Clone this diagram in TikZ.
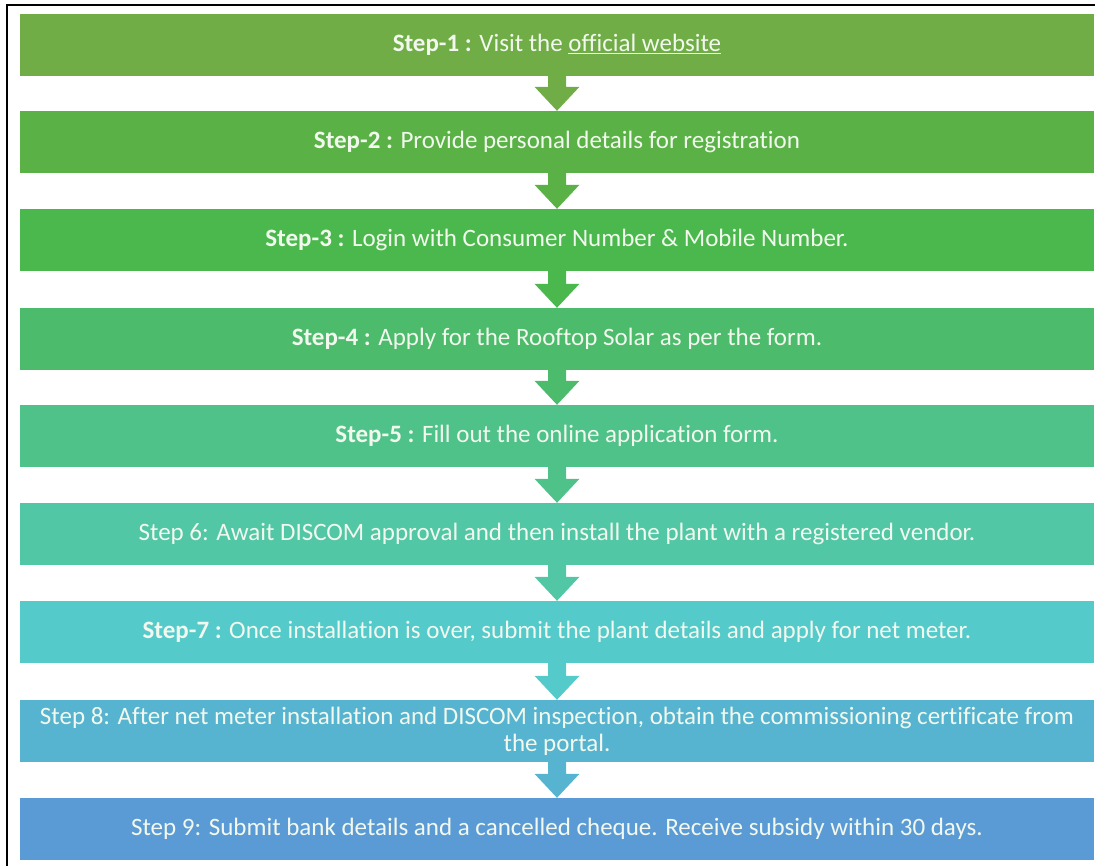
\documentclass[tikz,border=0pt]{standalone}
\usepackage{fontspec}
\setmainfont[Ligatures=NoCommon]{Carlito}
\usetikzlibrary{calc}

\definecolor{c1}{HTML}{70AD47}
\definecolor{c2}{HTML}{5AB247}
\definecolor{c3}{HTML}{4BB84E}
\definecolor{c4}{HTML}{4CBB6B}
\definecolor{c5}{HTML}{4FC289}
\definecolor{c6}{HTML}{51C7A6}
\definecolor{c7}{HTML}{55CACB}
\definecolor{c8}{HTML}{56B4D0}
\definecolor{c9}{HTML}{5B9BD5}
\definecolor{txt}{HTML}{F2F8EE}

% arrow from the bottom of one step to the top of the next
\newcommand\flowarrow[3]{%
  \fill[#3] ($(#1.south)+(-9,0)$) -- ($(#1.south)+(9,0)$)
    -- ($(#2.north)+(9,-24)$) -- ($(#2.north)+(22.5,-24)$)
    -- (#2.north)
    -- ($(#2.north)+(-22.5,-24)$) -- ($(#2.north)+(-9,-24)$) -- cycle;}

\begin{document}
\begin{tikzpicture}[x=1bp,y=-1bp,
  stepbox/.style={rectangle, inner sep=0pt, minimum width=1074bp,
    minimum height=62bp, text=txt, align=center,
    font=\fontsize{25bp}{27bp}\selectfont}]
\useasboundingbox (0,0) rectangle (1095,866);

% outer frame
\draw[line width=2bp] (7,866) -- (7,5) -- (1095,5);

\node[stepbox, fill=c1] (s1) at (557,45)
  {\textbf{Step-1 :} Visit the \underline{official website}};
\node[stepbox, fill=c2] (s2) at (557,142)
  {\textbf{Step-2 :} Provide personal details for registration};
\node[stepbox, fill=c3] (s3) at (557,240)
  {\textbf{Step-3 :} Login with Consumer Number \& Mobile Number.};
\node[stepbox, fill=c4] (s4) at (557,339)
  {\textbf{Step-4 :} Apply for the Rooftop Solar as per the form.};
\node[stepbox, fill=c5] (s5) at (557,436)
  {\textbf{Step-5 :} Fill out the online application form.};
\node[stepbox, fill=c6] (s6) at (557,534)
  {Step 6: Await DISCOM approval and then install the plant with a registered vendor.};
\node[stepbox, fill=c7] (s7) at (557,632)
  {\textbf{Step-7 :} Once installation is over, submit the plant details and apply for net meter.};
\node[stepbox, fill=c8] (s8) at (557,731)
  {Step 8: After net meter installation and DISCOM inspection, obtain the commissioning certificate from\\ the portal.};
\node[stepbox, fill=c9] (s9) at (557,829)
  {Step 9: Submit bank details and a cancelled cheque. Receive subsidy within 30 days.};

\flowarrow{s1}{s2}{c1}
\flowarrow{s2}{s3}{c2}
\flowarrow{s3}{s4}{c3}
\flowarrow{s4}{s5}{c4}
\flowarrow{s5}{s6}{c5}
\flowarrow{s6}{s7}{c6}
\flowarrow{s7}{s8}{c7}
\flowarrow{s8}{s9}{c8}
\end{tikzpicture}
\end{document}
